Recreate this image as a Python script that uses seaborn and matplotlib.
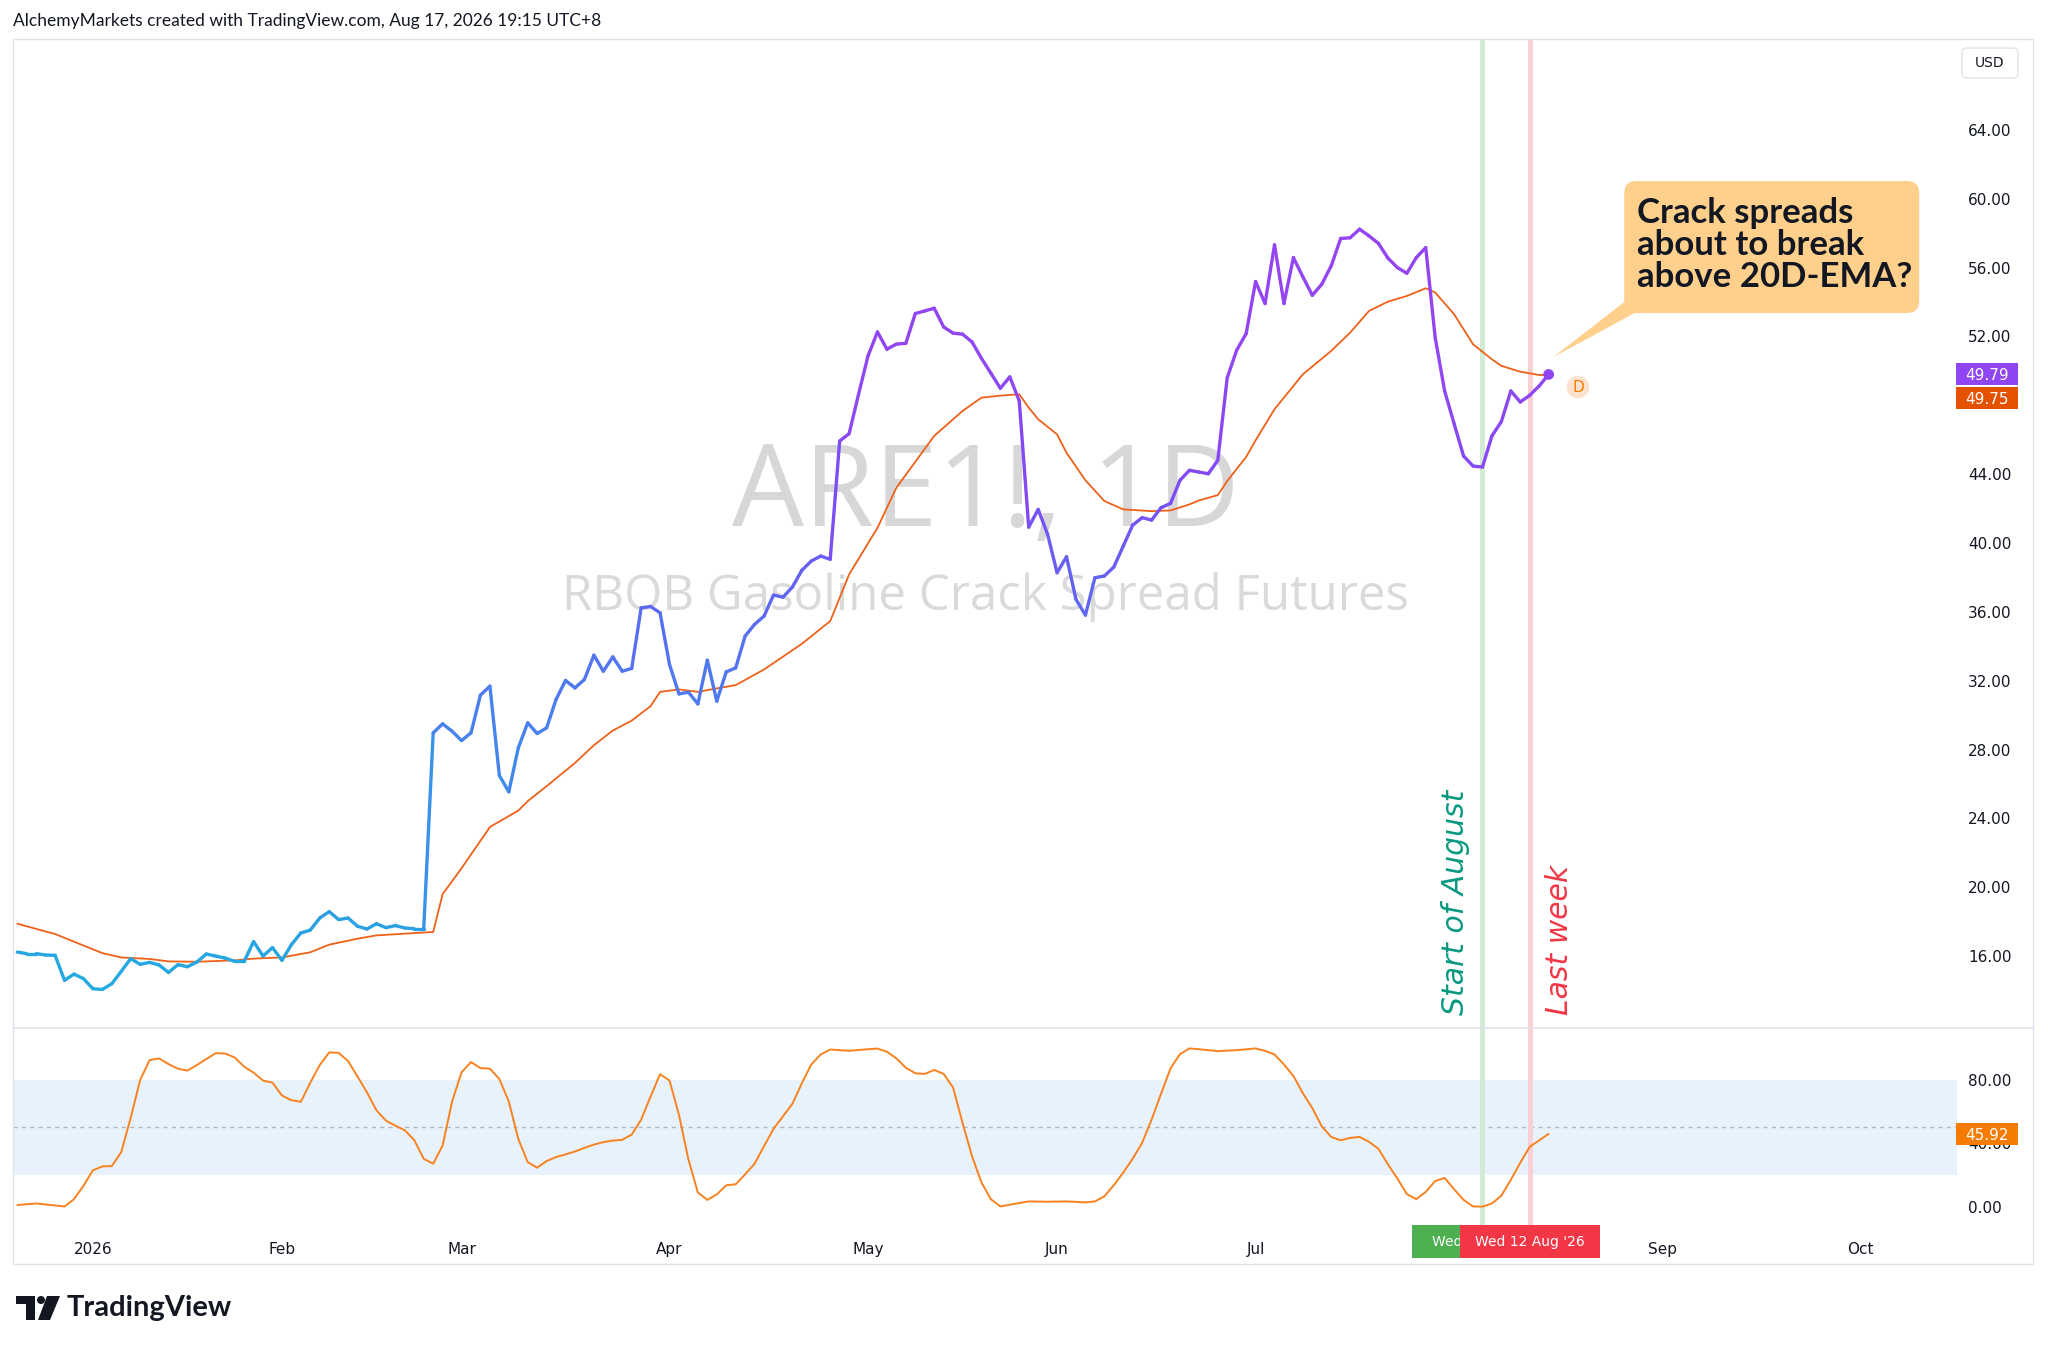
"""
plot.py
RBOB gasoline crack spread (ARE1!) daily line with 20D-EMA and stochastic pane,
redrawn in a TradingView-like layout.
"""
import matplotlib
matplotlib.use("Agg")
import matplotlib.pyplot as plt
import matplotlib.transforms as mtransforms
from matplotlib.colors import LinearSegmentedColormap, Normalize
from matplotlib.patches import FancyBboxPatch, Polygon, Rectangle, Circle
from matplotlib.lines import Line2D
import pandas as pd
import seaborn as sns

sns.set_theme(style="white")
plt.rcParams["font.family"] = ["DejaVu Sans"]

# ---- data ----------------------------------------------------------------
START = "2025-12-19"
HOLIDAYS = ["2025-12-25", "2026-01-01", "2026-01-19", "2026-02-16", "2026-04-03",
            "2026-05-25", "2026-06-19", "2026-07-03", "2026-09-07"]

price = [16.23, 16.14, 16.14, 16.06, 16.04, 14.59, 14.95, 14.69, 14.10, 14.06,
         14.39, 15.11, 15.85, 15.52, 15.63, 15.48, 15.05, 15.50, 15.38, 15.65,
         16.12, 16.00, 15.88, 15.69, 15.69, 16.84, 16.00, 16.49, 15.75, 16.66,
         17.34, 17.51, 18.21, 18.58, 18.12, 18.21, 17.73, 17.57, 17.88, 17.65,
         17.77, 17.63, 17.59, 17.59, 28.97, 29.49, 29.06, 28.52, 28.97, 31.16,
         31.68, 26.49, 25.54, 28.09, 29.55, 28.93, 29.26, 30.91, 32.01, 31.58,
         32.07, 33.48, 32.55, 33.38, 32.55, 32.71, 36.23, 36.31, 35.94, 32.94,
         31.23, 31.33, 30.65, 33.19, 30.81, 32.51, 32.74, 34.59, 35.27, 35.75,
         36.97, 36.85, 37.44, 38.41, 38.95, 39.24, 39.05, 45.92, 46.35, 48.64,
         50.87, 52.26, 51.26, 51.55, 51.60, 53.33, 53.48, 53.64, 52.55, 52.19,
         52.13, 51.68, 50.73, 49.86, 48.99, 49.65, 48.25, 40.92, 41.95, 40.50,
         38.27, 39.20, 36.72, 35.81, 37.98, 38.08, 38.60, 39.82, 41.04, 41.47,
         41.33, 42.05, 42.30, 43.64, 44.22, 44.12, 44.02, 44.80, 49.60, 51.20,
         52.16, 55.19, 53.91, 57.32, 53.91, 56.58, 55.46, 54.39, 55.03, 56.10,
         57.69, 57.73, 58.23, 57.84, 57.40, 56.55, 56.00, 55.67, 56.58, 57.16,
         51.93, 48.83, 46.93, 45.05, 44.47, 44.41, 46.22, 47.05, 48.83, 48.19,
         48.58, 49.12, 49.79]

ema_day = [0, 4, 9, 11, 14, 16, 19, 23, 25, 28,
           31, 33, 36, 38, 41, 44, 45, 47, 50, 53,
           54, 56, 59, 61, 63, 65, 67, 68, 70, 72,
           74, 76, 79, 83, 86, 88, 91, 93, 97, 100,
           102, 104, 106, 107, 108, 110, 111, 113, 115, 117,
           120, 122, 124, 125, 127, 128, 130, 131, 133, 136,
           139, 141, 143, 145, 147, 149, 150, 152, 154, 156,
           157, 159, 161, 162]
ema_val = [17.88, 17.28, 16.17, 15.92, 15.83, 15.69, 15.67, 15.75, 15.85, 15.92,
           16.22, 16.66, 17.01, 17.20, 17.30, 17.40, 19.60, 21.10, 23.50, 24.45,
           25.00, 25.87, 27.22, 28.25, 29.10, 29.68, 30.52, 31.35, 31.49, 31.35,
           31.55, 31.74, 32.65, 34.14, 35.46, 38.17, 40.88, 43.21, 46.22, 47.67,
           48.44, 48.56, 48.64, 47.86, 47.19, 46.31, 45.24, 43.64, 42.44, 41.95,
           41.85, 41.89, 42.24, 42.47, 42.78, 43.60, 45.00, 45.96, 47.77, 49.80,
           51.16, 52.22, 53.48, 54.02, 54.35, 54.80, 54.55, 53.29, 51.55, 50.67,
           50.29, 49.95, 49.76, 49.75]

stoch_day = [0, 2, 5, 6, 7, 8, 9, 10, 11, 12,
             13, 14, 15, 16, 17, 18, 19, 20, 21, 22,
             23, 24, 25, 26, 27, 28, 29, 30, 31, 32,
             33, 34, 35, 36, 37, 38, 39, 40, 41, 42,
             43, 44, 45, 46, 47, 48, 49, 50, 51, 52,
             53, 54, 55, 56, 57, 58, 59, 60, 61, 62,
             63, 64, 65, 66, 67, 68, 69, 70, 71, 72,
             73, 74, 75, 76, 77, 78, 79, 80, 82, 83,
             84, 85, 86, 88, 90, 91, 92, 93, 94, 95,
             96, 97, 98, 99, 100, 101, 102, 103, 104, 105,
             107, 109, 111, 113, 114, 115, 116, 117, 118, 119,
             120, 121, 122, 123, 124, 125, 127, 129, 131, 132,
             133, 134, 135, 136, 137, 138, 139, 140, 141, 142,
             143, 144, 145, 146, 147, 148, 149, 150, 151, 152,
             153, 154, 155, 156, 157, 158, 159, 160, 161, 162]
stoch_val = [1.0, 2.0, 0.1, 4.7, 13.1, 22.9, 25.4, 25.6, 34.4, 56.0,
             80.0, 92.5, 93.6, 90.0, 87.1, 85.9, 89.4, 93.2, 96.9, 96.7,
             94.2, 88.4, 84.6, 79.6, 78.3, 70.2, 67.2, 66.2, 78.3, 89.4,
             97.4, 97.1, 91.9, 82.1, 72.1, 60.8, 54.3, 51.1, 48.2, 42.0,
             30.2, 27.1, 38.6, 66.4, 84.8, 91.3, 87.5, 87.1, 80.6, 66.4,
             42.8, 28.1, 24.6, 28.8, 31.3, 33.0, 34.8, 37.1, 39.2, 40.7,
             41.7, 42.2, 45.5, 54.9, 69.5, 83.6, 79.6, 58.0, 29.8, 8.9,
             4.3, 7.7, 13.5, 14.1, 20.4, 27.1, 38.2, 49.1, 64.9, 77.9,
             89.8, 96.1, 99.2, 98.4, 99.4, 99.8, 97.8, 93.6, 87.7, 84.2,
             83.8, 86.3, 83.8, 75.2, 52.8, 31.9, 15.2, 4.7, 0.1, 1.2,
             3.3, 3.1, 3.3, 2.7, 3.3, 6.5, 13.5, 21.5, 30.3, 40.3,
             55.0, 71.3, 87.3, 96.3, 99.9, 99.4, 98.2, 98.8, 99.9, 98.4,
             96.1, 89.8, 82.5, 71.6, 62.2, 50.7, 44.0, 41.9, 43.4, 44.0,
             40.9, 36.5, 26.7, 17.7, 7.9, 4.7, 9.3, 16.2, 18.1, 11.0,
             4.3, 0.1, 0.0, 2.0, 6.9, 16.9, 27.7, 37.8, 41.9, 45.92]

# 48.00 sits under the last-value boxes on the original, so it is not labelled
price_ticks = [16, 20, 24, 28, 32, 36, 40, 44, 52, 56, 60, 64]
stoch_ticks = [0, 40, 80]
month_starts = ["2026-01-01", "2026-02-01", "2026-03-01", "2026-04-01", "2026-05-01",
                "2026-06-01", "2026-07-01", "2026-08-01", "2026-09-01", "2026-10-01"]
month_names = ["2026", "Feb", "Mar", "Apr", "May", "Jun", "Jul", "Aug", "Sep", "Oct"]
marked_days = [155, 160]

# ---- colours ---------------------------------------------------------------
TEXT = "#131722"
EMA_C = "#ef6119"
EMA_BOX = "#e65100"
STOCH_C = "#f7821f"
STOCH_BOX = "#f57c00"
PURPLE = "#8f45f2"
GREEN_LINE, RED_LINE = "#d3ebd5", "#fbd0d4"
line_cmap = LinearSegmentedColormap.from_list(
    "tvgrad", [(0.0, "#22ace0"), (0.18, "#3595e8"), (0.36, "#4a80ee"),
               (0.52, "#5f67f2"), (0.68, "#8249f4"), (0.82, "#9147f3"), (1.0, "#9444f0")])
line_norm = Normalize(14, 58)

# ---- trading-day calendar ------------------------------------------------
cal = pd.bdate_range(START, "2026-10-30", freq="C", holidays=HOLIDAYS)
month_pos = [int((cal < pd.Timestamp(m)).sum()) for m in month_starts]

# ---- figure / panes ---------------------------------------------------------
W, H = 2048, 1351
fig = plt.figure(figsize=(W / 100, H / 100), dpi=100)
fig.patch.set_facecolor("white")
PX = mtransforms.Affine2D().scale(1 / W, -1 / H).translate(0, 1) + fig.transFigure


def frac_rect(x0, y0, x1, y1):
    return [x0 / W, 1 - y1 / H, (x1 - x0) / W, (y1 - y0) / H]


ax = fig.add_axes(frac_rect(13, 39, 1957, 1028))
ax2 = fig.add_axes(frac_rect(13, 1028, 1957, 1225))
XLIM = (-0.45, 205.2)
for a in (ax, ax2):
    a.set_xlim(*XLIM)
    a.set_facecolor("white")
    for s in a.spines.values():
        s.set_visible(False)
ax.set_ylim(11.82, 69.28)
ax2.set_ylim(-11.6, 112.8)

# watermark
ax.text(0.5005, 0.538, "ARE1!, 1D", transform=ax.transAxes, ha="center", va="center",
        fontsize=82, color="#d7d7d7", family=["Open Sans", "DejaVu Sans"], zorder=0)
ax.text(0.5005, 0.436, "RBOB Gasoline Crack Spread Futures", transform=ax.transAxes,
        ha="center", va="center", fontsize=35.5, color="#dadada",
        family=["Open Sans", "DejaVu Sans"], zorder=0)

# vertical markers through both panes
for a in (ax, ax2):
    a.axvline(marked_days[0], color=GREEN_LINE, lw=3.6, zorder=1)
    a.axvline(marked_days[1], color=RED_LINE, lw=3.6, zorder=1)

# price line, coloured by level
rows = []
seg_colors = {}
for i in range(len(price) - 1):
    key = f"s{i}"
    rows.append((i, price[i], key))
    rows.append((i + 1, price[i + 1], key))
    seg_colors[key] = line_cmap(line_norm((price[i] + price[i + 1]) / 2))
seg_df = pd.DataFrame(rows, columns=["day", "value", "seg"])
sns.lineplot(data=seg_df, x="day", y="value", hue="seg", palette=seg_colors,
             legend=False, linewidth=2.4, estimator=None, sort=False, ax=ax,
             solid_capstyle="round", zorder=4)

# 20D EMA
sns.lineplot(x=ema_day, y=ema_val, ax=ax, color=EMA_C, linewidth=1.3, zorder=3)

# last point dot
sns.scatterplot(x=[len(price) - 1], y=[price[-1]], ax=ax, color=PURPLE, s=60,
                edgecolor="none", zorder=6)

# stochastic pane
ax2.axhspan(20, 80, color="#e8f2fd", lw=0, zorder=0)
ax2.axhline(50, color="#b2b5be", ls=(0, (3, 3)), lw=1, zorder=0.5)
sns.lineplot(x=stoch_day, y=stoch_val, ax=ax2, color=STOCH_C, linewidth=1.4, zorder=3)

# axes ticks
ax.yaxis.tick_right()
ax.set_yticks(price_ticks)
ax.set_yticklabels([f"{v:.2f}" for v in price_ticks])
ax.set_xticks([])
ax.tick_params(axis="y", length=0, pad=8, labelsize=11, labelcolor=TEXT)
ax.set_xlabel("")
ax.set_ylabel("")

ax2.yaxis.tick_right()
ax2.set_yticks(stoch_ticks)
ax2.set_yticklabels([f"{v:.2f}" for v in stoch_ticks])
ax2.set_xticks(month_pos)
ax2.set_xticklabels(month_names)
ax2.tick_params(axis="y", length=0, pad=8, labelsize=11, labelcolor=TEXT)
ax2.tick_params(axis="x", length=0, pad=12, labelsize=11, labelcolor=TEXT)
ax2.set_xlabel("")
ax2.set_ylabel("")

# rotated notes
ax.text(153.7, 12.6, "Start of August", rotation=90, ha="right", va="bottom",
        fontsize=21.5, style="italic", color="#089981")
ax.text(161.6, 12.6, "Last week", rotation=90, ha="left", va="bottom",
        fontsize=21.5, style="italic", color="#f23645")

# callout
ax.add_patch(Polygon([(162.5, 50.8), (170.0, 54.0), (171.1, 53.36)], closed=True,
                     fc="#ffcf8c", ec="none", zorder=5, clip_on=False))
ax.add_patch(FancyBboxPatch((170.0, 53.36), 31.2, 7.67,
                            boxstyle="round,pad=0,rounding_size=1.3",
                            mutation_aspect=0.55, fc="#ffcf8c", ec="none",
                            zorder=5, clip_on=False))
ax.text(171.3, 57.3, "Crack spreads\nabout to break\nabove 20D-EMA?", ha="left",
        va="center", fontsize=25, fontweight="bold", color=TEXT, linespacing=1.0,
        family=["Lato", "DejaVu Sans"], zorder=6)

# "D" event marker
ax.text(165.1, 49.06, "D", ha="center", va="center", fontsize=11, color="#f57c00",
        zorder=6, bbox=dict(boxstyle="circle,pad=0.25", fc="#fde3cf", ec="none"))


# price-scale value boxes
def value_box(axis, value, text, color, shift=0.0):
    yc = H - axis.transData.transform((0, value))[1] + shift
    fig.add_artist(Rectangle((1956, yc - 11), 62, 22, transform=PX, fc=color,
                             ec="none", zorder=5))
    fig.text(1987, yc, text, transform=PX, ha="center", va="center_baseline",
             color="white", fontsize=11, zorder=6)


value_box(ax, price[-1], f"{price[-1]:.2f}", PURPLE)
value_box(ax, ema_val[-1], f"{ema_val[-1]:.2f}", EMA_BOX, shift=23)
value_box(ax2, stoch_val[-1], f"{stoch_val[-1]:.2f}", STOCH_BOX)

# date boxes on the time scale
for day, color, z in ((marked_days[0], "#4caf50", 5), (marked_days[1], "#f23645", 7)):
    xc = ax2.transData.transform((day, 0))[0]
    d = cal[day]
    fig.add_artist(Rectangle((xc - 70, 1225), 140, 33, transform=PX, fc=color,
                             ec="none", zorder=z))
    fig.text(xc, 1242, f"{d:%a} {d.day} {d:%b} '{d:%y}", transform=PX, ha="center",
             va="center", color="white", fontsize=10, zorder=z + 0.5)

# USD badge
fig.add_artist(FancyBboxPatch((1962, 48), 56, 30, boxstyle="round,pad=0,rounding_size=5",
                              transform=PX, fc="white", ec="#e0e3eb", lw=1))
fig.text(1990, 63, "USD", transform=PX, ha="center", va="center", fontsize=10, color=TEXT)

# frame
fig.add_artist(Rectangle((13, 39), 2020, 1225, transform=PX, fill=False,
                         ec="#e0e3eb", lw=1, zorder=0.5))
fig.add_artist(Line2D([13, 2033], [1028, 1028], transform=PX, color="#e0e3eb", lw=1.2))

# header and logo
fig.text(13, 21, "AlchemyMarkets created with TradingView.com, Aug 17, 2026 19:15 UTC+8",
         transform=PX, ha="left", va="center", fontsize=12.5, color=TEXT,
         family=["Lato", "DejaVu Sans"])
fig.add_artist(Polygon([(16, 1296), (35, 1296), (35, 1320), (26, 1320), (26, 1304),
                        (16, 1304)], closed=True, transform=PX, fc=TEXT, ec="none"))
fig.add_artist(Circle((41, 1300), 4, transform=PX, fc=TEXT, ec="none"))
fig.add_artist(Polygon([(47, 1296), (60, 1296), (50, 1320), (38, 1320)], closed=True,
                       transform=PX, fc=TEXT, ec="none"))
fig.text(67, 1308, "TradingView", transform=PX, ha="left", va="center", fontsize=21,
         fontweight="bold", color=TEXT, family=["Lato", "DejaVu Sans"])

fig.savefig("out.png", dpi=100, facecolor="white")
